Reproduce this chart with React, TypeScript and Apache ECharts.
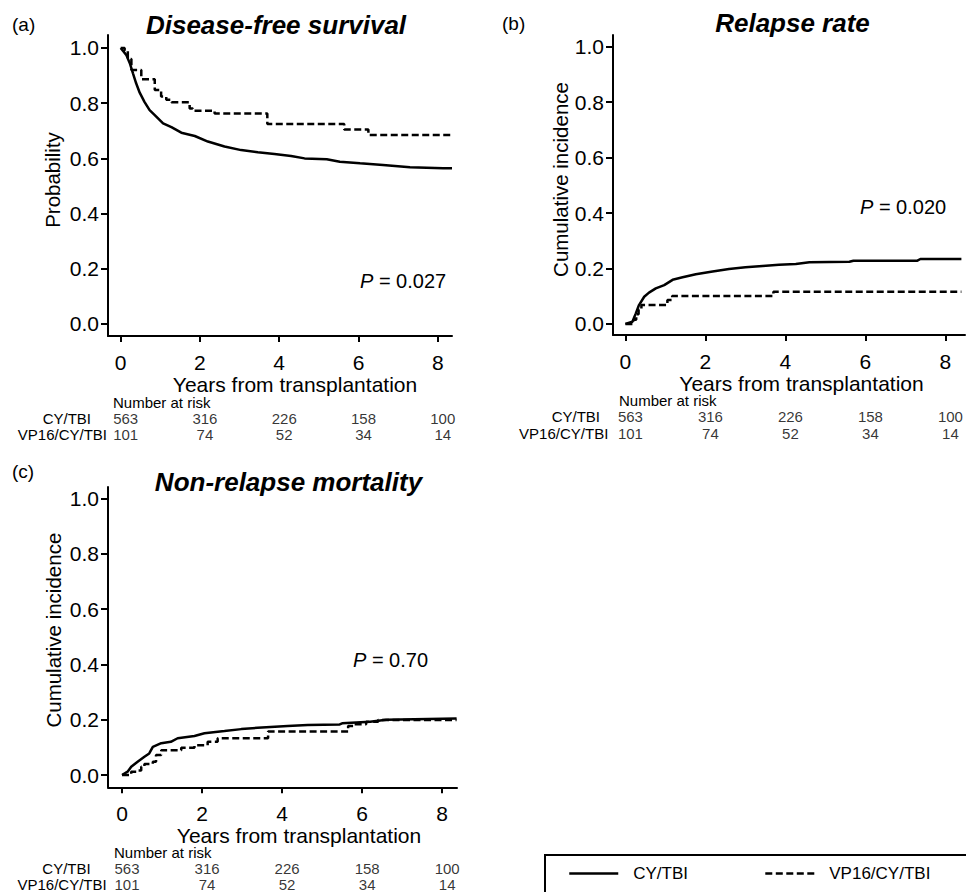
import React, { useEffect, useRef } from "react";
import * as echarts from "echarts";

const FONT = '"Liberation Sans", Arial, Helvetica, sans-serif';

// ---- data ----
const xTicks = [0, 2, 4, 6, 8];
const yTicks = [0, 0.2, 0.4, 0.6, 0.8, 1.0];

// (a) Disease-free survival
const dfsCyT = [0, 0.14, 0.23, 0.31, 0.39, 0.48, 0.6, 0.73, 0.86, 1.07, 1.28, 1.53, 1.87, 2.2, 2.62, 3.04, 3.46, 3.88, 4.3, 4.64, 5.2, 5.53, 6.04, 6.62, 7.3, 8.14, 8.36];
const dfsCyS = [1.0, 0.975, 0.945, 0.908, 0.872, 0.838, 0.805, 0.775, 0.757, 0.727, 0.713, 0.693, 0.681, 0.661, 0.643, 0.63, 0.622, 0.616, 0.609, 0.6, 0.597, 0.588, 0.582, 0.576, 0.568, 0.564, 0.564];
const dfsVpT = [0, 0.1, 0.18, 0.27, 0.52, 0.86, 1.02, 1.15, 1.28, 1.74, 1.82, 2.37, 3.7, 5.64, 6.25, 8.36];
const dfsVpS = [1.0, 0.99, 0.96, 0.92, 0.887, 0.848, 0.824, 0.812, 0.803, 0.781, 0.773, 0.763, 0.725, 0.705, 0.685, 0.685];

// (b) Relapse rate
const relCyT = [0, 0.175, 0.26, 0.34, 0.47, 0.59, 0.76, 0.97, 1.18, 1.43, 1.76, 2.18, 2.59, 3.0, 3.43, 3.84, 4.26, 4.6, 5.6, 5.7, 7.3, 7.375, 8.4];
const relCyV = [0, 0.008, 0.038, 0.068, 0.098, 0.113, 0.128, 0.14, 0.159, 0.168, 0.179, 0.189, 0.198, 0.204, 0.209, 0.213, 0.216, 0.222, 0.224, 0.228, 0.228, 0.234, 0.234];
const relVpT = [0, 0.2, 0.27, 0.33, 0.4, 1.05, 1.17, 3.7, 8.4];
const relVpV = [0, 0.015, 0.035, 0.05, 0.068, 0.086, 0.101, 0.116, 0.116];

// (c) Non-relapse mortality
const nrmCyT = [0, 0.14, 0.23, 0.39, 0.56, 0.68, 0.77, 0.98, 1.22, 1.39, 1.81, 2.06, 2.56, 2.98, 3.39, 4.14, 4.64, 5.44, 5.5, 6.2, 6.6, 8.36];
const nrmCyV = [0, 0.012, 0.03, 0.048, 0.066, 0.078, 0.102, 0.115, 0.12, 0.133, 0.141, 0.151, 0.159, 0.166, 0.171, 0.177, 0.181, 0.183, 0.187, 0.193, 0.2, 0.204];
const nrmVpT = [0, 0.18, 0.23, 0.39, 0.48, 0.56, 0.77, 0.85, 0.98, 1.48, 1.81, 2.14, 2.39, 3.65, 5.65, 5.8, 6.1, 6.4, 8.36];
const nrmVpV = [0, 0.004, 0.012, 0.016, 0.03, 0.04, 0.048, 0.072, 0.09, 0.099, 0.108, 0.12, 0.133, 0.157, 0.177, 0.184, 0.193, 0.199, 0.201];

// number at risk
const riskTimes = [0, 2, 4, 6, 8];
const riskCy = [563, 316, 226, 158, 100];
const riskVp = [101, 74, 52, 34, 14];

const groupNames = ["CY/TBI", "VP16/CY/TBI"];

const zip = (a: number[], b: number[]) => a.map((v, i) => [v, b[i]]);

function txt(text: string, x: number, y: number, size: number, extra: any = {}) {
  return {
    type: "text",
    x,
    y,
    style: {
      text,
      fill: "#000",
      fontSize: size,
      fontFamily: FONT,
      align: "left",
      verticalAlign: "middle",
      ...extra,
    },
  };
}

function pText(value: string, x: number, y: number) {
  return {
    type: "text",
    x,
    y,
    style: {
      text: "{i|P} = " + value,
      fill: "#000",
      fontSize: 20,
      fontFamily: FONT,
      align: "left",
      verticalAlign: "middle",
      rich: { i: { fontStyle: "italic", fontSize: 20, fontFamily: FONT, fill: "#000" } },
    },
  };
}

export default function App() {
  const ref = useRef<HTMLDivElement>(null);

  useEffect(() => {
    document.body.style.margin = "0";
    if (!ref.current) return;
    const chart = echarts.init(ref.current, undefined, { renderer: "svg" });

    const panels = [
      { left: 108, top: 35, width: 344, height: 301, xmin: -0.32, xmax: 8.36, ymin: -0.0435, ymax: 1.047, yname: "Probability", yGap: 45, yPad: 11, xGap: 38, xPad: 30, tTop: 410, tH: 32,
        cy: zip(dfsCyT, dfsCyS), vp: zip(dfsVpT, dfsVpS) },
      { left: 613, top: 35, width: 352, height: 300, xmin: -0.31, xmax: 8.49, ymin: -0.04, ymax: 1.042, yname: "Cumulative incidence", yGap: 41, yPad: 11, xGap: 36, xPad: 25, tTop: 408.7, tH: 32.6,
        cy: zip(relCyT, relCyV), vp: zip(relVpT, relVpV) },
      { left: 108, top: 487, width: 349, height: 300.3, xmin: -0.35, xmax: 8.37, ymin: -0.0445, ymax: 1.042, yname: "Cumulative incidence", yGap: 44, yPad: 14, xGap: 37, xPad: 33, tTop: 860.3, tH: 32,
        cy: zip(nrmCyT, nrmCyV), vp: zip(nrmVpT, nrmVpV) },
    ];

    const grid: any[] = [];
    const xAxis: any[] = [];
    const yAxis: any[] = [];
    const series: any[] = [];

    panels.forEach((p, i) => {
      grid.push({ left: p.left, top: p.top, width: p.width, height: p.height, containLabel: false });
      xAxis.push({
        type: "value",
        gridIndex: i,
        min: p.xmin,
        max: p.xmax,
        position: "bottom",
        axisLine: { show: true, onZero: false, lineStyle: { color: "#000", width: 2 } },
        axisTick: { show: true, length: 6, customValues: xTicks, lineStyle: { color: "#000", width: 2 } },
        axisLabel: { show: true, customValues: xTicks, margin: 16, fontSize: 21, color: "#000", fontFamily: FONT, formatter: (v: number) => String(v) },
        splitLine: { show: false },
        name: "Years from transplantation",
        nameLocation: "middle",
        nameGap: p.xGap,
        nameTextStyle: { fontSize: 21, color: "#000", fontFamily: FONT, padding: [0, 0, 0, p.xPad] },
      });
      yAxis.push({
        type: "value",
        gridIndex: i,
        min: p.ymin,
        max: p.ymax,
        position: "left",
        axisLine: { show: true, onZero: false, lineStyle: { color: "#000", width: 2 } },
        axisTick: { show: true, length: 7, customValues: yTicks, lineStyle: { color: "#000", width: 2 } },
        axisLabel: { show: true, customValues: yTicks, margin: 9, fontSize: 21, color: "#000", fontFamily: FONT, formatter: (v: number) => v.toFixed(1) },
        splitLine: { show: false },
        name: p.yname,
        nameLocation: "middle",
        nameRotate: 90,
        nameGap: p.yGap,
        nameTextStyle: { fontSize: 20.5, color: "#000", fontFamily: FONT, padding: [0, 0, 0, p.yPad] },
      });
      series.push({
        name: groupNames[0],
        type: "line",
        xAxisIndex: i,
        yAxisIndex: i,
        data: p.cy,
        symbol: "none",
        lineStyle: { color: "#000", width: 2.5, type: "solid" },
        itemStyle: { color: "#000" },
      });
      series.push({
        name: groupNames[1],
        type: "line",
        xAxisIndex: i,
        yAxisIndex: i,
        data: p.vp,
        step: "end",
        symbol: "none",
        lineStyle: { color: "#000", width: 2.5, type: [7, 3.5] },
        itemStyle: { color: "#000" },
      });
    });

    // risk table grids
    panels.forEach((p, i) => {
      const gi = 3 + i;
      grid.push({ left: p.left, top: p.tTop, width: p.width, height: p.tH, containLabel: false });
      xAxis.push({ type: "value", gridIndex: gi, min: p.xmin, max: p.xmax, show: false });
      yAxis.push({ type: "value", gridIndex: gi, min: 0, max: 2, show: false });
      const rows = [
        { vals: riskCy, y: 1.5 },
        { vals: riskVp, y: 0.5 },
      ];
      rows.forEach((r, k) => {
        series.push({
          name: "risk" + i + "_" + k,
          type: "scatter",
          xAxisIndex: gi,
          yAxisIndex: gi,
          symbol: "circle",
          symbolSize: 1,
          itemStyle: { color: "rgba(0,0,0,0)" },
          clip: false,
          silent: true,
          data: riskTimes.map((t, j) => [t, r.y, r.vals[j]]),
          label: {
            show: true,
            position: "inside",
            offset: [5, 0],
            formatter: (d: any) => String(d.value[2]),
            color: "#000",
            fontSize: 15,
            fontFamily: FONT,
          },
        });
      });
    });

    const graphic: any[] = [
      // panel labels
      txt("(a)", 12, 24, 19),
      txt("(b)", 502, 23, 19),
      txt("(c)", 12, 471.5, 19),
      // titles
      txt("Disease-free survival", 276, 25, 26, { align: "center", fontWeight: "bold", fontStyle: "italic" }),
      txt("Relapse rate", 792.5, 23, 26, { align: "center", fontWeight: "bold", fontStyle: "italic" }),
      txt("Non-relapse mortality", 288.5, 482, 26, { align: "center", fontWeight: "bold", fontStyle: "italic" }),
      // p values
      pText("0.027", 360, 281),
      pText("0.020", 860, 207),
      pText("0.70", 353, 660),
      // risk table headers
      txt("Number at risk", 113, 402, 15),
      txt("CY/TBI", 91, 418, 15, { align: "right" }),
      txt("VP16/CY/TBI", 107, 434, 15, { align: "right" }),
      txt("Number at risk", 619, 400, 15),
      txt("CY/TBI", 600, 416.7, 15, { align: "right" }),
      txt("VP16/CY/TBI", 608.3, 433, 15, { align: "right" }),
      txt("Number at risk", 114, 852.3, 15),
      txt("CY/TBI", 90.7, 868.3, 15, { align: "right" }),
      txt("VP16/CY/TBI", 106.7, 884.3, 15, { align: "right" }),
      // legend box
      {
        type: "rect",
        shape: { x: 545, y: 855, width: 440, height: 60 },
        style: { fill: "none", stroke: "#000", lineWidth: 2 },
        silent: true,
      },
    ];

    chart.setOption({
      animation: false,
      backgroundColor: "#fff",
      grid,
      xAxis,
      yAxis,
      series,
      graphic,
      legend: {
        data: groupNames,
        left: 568,
        top: 865,
        padding: 0,
        itemWidth: 49,
        itemHeight: 14,
        itemGap: 76,
        selectedMode: false,
        itemStyle: { color: "rgba(0,0,0,0)", borderColor: "rgba(0,0,0,0)", borderWidth: 0, opacity: 0 },
        lineStyle: { width: 2.5 },
        textStyle: { fontSize: 17, color: "#000", fontFamily: FONT, padding: [0, 0, 0, 10] },
      },
    });

    return () => chart.dispose();
  }, []);

  return <div ref={ref} style={{ width: 966, height: 892 }} />;
}
